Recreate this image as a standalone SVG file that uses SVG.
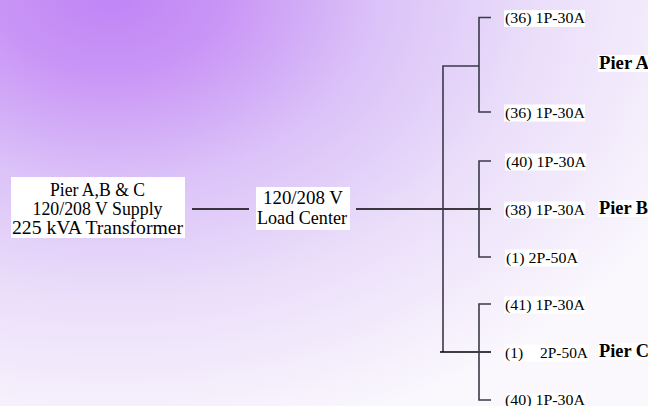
<svg xmlns="http://www.w3.org/2000/svg" width="648" height="406" viewBox="0 0 648 406">
  <defs>
    <radialGradient id="bg" gradientUnits="userSpaceOnUse" cx="110" cy="-10" r="640" gradientTransform="translate(110,-10) scale(1,0.72) translate(-110,10)">
      <stop offset="0" stop-color="#c083f5"/>
      <stop offset="0.18" stop-color="#c995f6"/>
      <stop offset="0.42" stop-color="#dbc2f8"/>
      <stop offset="0.68" stop-color="#ebdffa"/>
      <stop offset="1" stop-color="#faf7fd"/>
    </radialGradient>
    <style>
      .box { fill: #ffffff; stroke: none; }
      .t { font-family: "Liberation Serif", Tinos, "Times New Roman", Times, serif; font-size: 18px; fill: #000; }
      .lbl { font-family: "Liberation Serif", Tinos, "Times New Roman", Times, serif; font-size: 15.5px; fill: #000; }
      .pier { font-family: "Liberation Serif", Tinos, "Times New Roman", Times, serif; font-size: 18px; font-weight: bold; fill: #000; }
      .wire { stroke: #000; stroke-width: 1.3; fill: none; }
      .bus { stroke: #3a3a48; stroke-width: 1.6; fill: none; }
    </style>
  </defs>
  <rect x="0" y="0" width="648" height="406" fill="url(#bg)"/>

  <g id="connectors">
    <line class="wire" x1="192" y1="209" x2="249" y2="209"/>
    <line class="wire" x1="356" y1="209" x2="491" y2="209"/>
    <path class="bus" d="M479,66 H443 V352"/>
    <line class="wire" x1="440" y1="352" x2="491" y2="352"/>
    <path class="bus" d="M491,17.5 H479 V112 H491"/>
    <path class="bus" d="M491,161 H479 V257 H491"/>
    <path class="bus" d="M491,304 H479 V400 H491"/>
  </g>

  <g id="transformer">
    <rect class="box" x="11" y="177" width="174" height="61"/>
    <text class="t" x="97.5" y="195.5" text-anchor="middle" textLength="95" lengthAdjust="spacingAndGlyphs">Pier A,B &amp; C</text>
    <text class="t" x="97.5" y="214.5" text-anchor="middle" textLength="130" lengthAdjust="spacingAndGlyphs">120/208 V Supply</text>
    <text class="t" x="97.5" y="233.5" text-anchor="middle" textLength="171" lengthAdjust="spacingAndGlyphs">225 kVA Transformer</text>
  </g>

  <g id="load-center">
    <rect class="box" x="256" y="187" width="94" height="43"/>
    <text class="t" x="303" y="204" text-anchor="middle" textLength="80" lengthAdjust="spacingAndGlyphs">120/208 V</text>
    <text class="t" x="302" y="224" text-anchor="middle" textLength="90" lengthAdjust="spacingAndGlyphs">Load Center</text>
  </g>

  <g id="pier-a">
    <rect class="box" x="504" y="10" width="81" height="17"/>
    <text class="lbl" x="505" y="23" textLength="80" lengthAdjust="spacingAndGlyphs">(36) 1P-30A</text>
    <rect class="box" x="504" y="104.5" width="81" height="17"/>
    <text class="lbl" x="505" y="117.5" textLength="80" lengthAdjust="spacingAndGlyphs">(36) 1P-30A</text>
    <rect class="box" x="598" y="55" width="50" height="17"/>
    <text class="pier" x="599" y="69" textLength="50" lengthAdjust="spacingAndGlyphs">Pier A</text>
  </g>

  <g id="pier-b">
    <rect class="box" x="505" y="153.5" width="81" height="17"/>
    <text class="lbl" x="506" y="166.5" textLength="80" lengthAdjust="spacingAndGlyphs">(40) 1P-30A</text>
    <rect class="box" x="504" y="201.5" width="81" height="17"/>
    <text class="lbl" x="505" y="214.5" textLength="80" lengthAdjust="spacingAndGlyphs">(38) 1P-30A</text>
    <rect class="box" x="505" y="249.5" width="73" height="17"/>
    <text class="lbl" x="506" y="262.5" textLength="72" lengthAdjust="spacingAndGlyphs">(1) 2P-50A</text>
    <rect class="box" x="598" y="200" width="50" height="17"/>
    <text class="pier" x="599" y="214" textLength="49" lengthAdjust="spacingAndGlyphs">Pier B</text>
  </g>

  <g id="pier-c">
    <rect class="box" x="504" y="296.5" width="81" height="17"/>
    <text class="lbl" x="505" y="309.5" textLength="80" lengthAdjust="spacingAndGlyphs">(41) 1P-30A</text>
    <rect class="box" x="504" y="344.5" width="85" height="17"/>
    <text class="lbl" x="505" y="357.5">(1)</text>
    <text class="lbl" x="540" y="357.5" textLength="48" lengthAdjust="spacingAndGlyphs">2P-50A</text>
    <rect class="box" x="504" y="393" width="81" height="13"/>
    <text class="lbl" x="505" y="404.5" textLength="80" lengthAdjust="spacingAndGlyphs">(40) 1P-30A</text>
    <rect class="box" x="598" y="343" width="50" height="17"/>
    <text class="pier" x="599" y="357" textLength="50" lengthAdjust="spacingAndGlyphs">Pier C</text>
  </g>
</svg>
